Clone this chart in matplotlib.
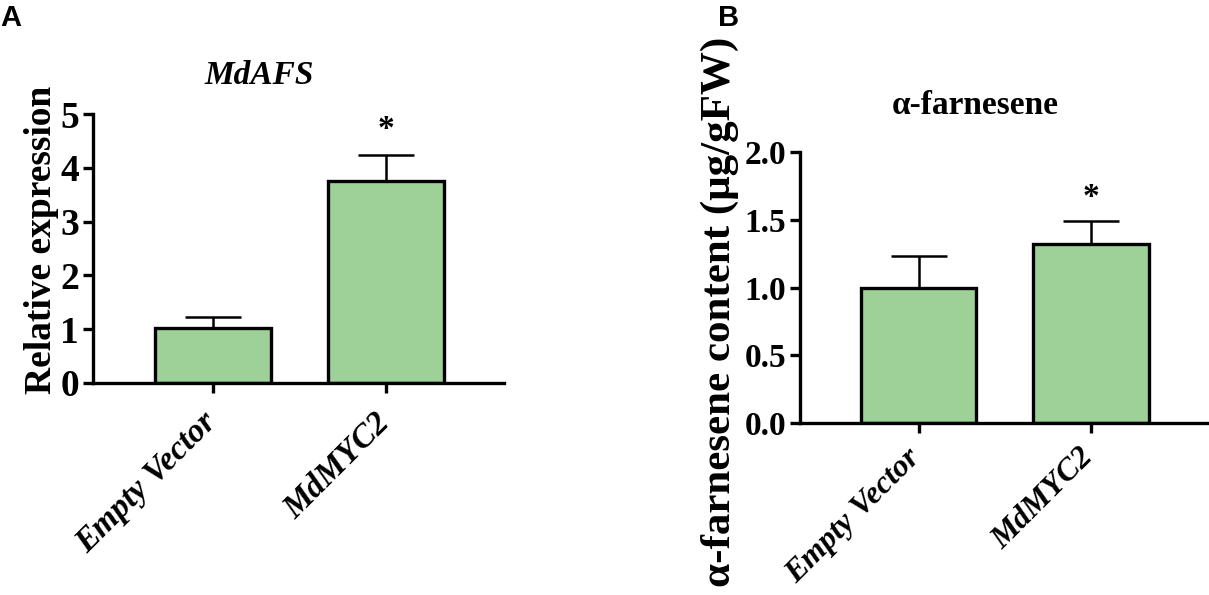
import matplotlib
matplotlib.use("Agg")
import matplotlib.pyplot as plt
from matplotlib.transforms import ScaledTranslation

categories = ["Empty Vector", "MdMYC2"]
afs_values = [1.02, 3.75]
afs_errors = [0.21, 0.48]
far_values = [1.00, 1.32]
far_errors = [0.23, 0.17]

W, H = 1209, 595
fig = plt.figure(figsize=(W / 100, H / 100), dpi=100)
plt.rcParams['font.family'] = ['Liberation Serif', 'DejaVu Serif']
green = '#9ed197'

def px_axes(l, r, b, t):
    return fig.add_axes([l / W, 1 - b / H, (r - l) / W, (b - t) / H])

def style(ax, ylim, yticks, ylabels, tick_fs, dx, dy, xfs):
    for s in ['top', 'right']:
        ax.spines[s].set_visible(False)
    for s in ['left', 'bottom']:
        ax.spines[s].set_linewidth(2.4)
    ax.set_ylim(*ylim)
    ax.set_xlim(-0.69, 1.68)
    ax.set_yticks(yticks)
    ax.set_yticklabels(ylabels, fontsize=tick_fs, fontweight='bold')
    ax.set_xticks(range(len(categories)))
    ax.set_xticklabels(categories, rotation=45, ha='right', fontsize=xfs,
                       fontweight='bold', fontstyle='italic')
    ax.tick_params(axis='both', direction='out', length=7, width=2.4, pad=3)
    off = ScaledTranslation(dx, dy, fig.dpi_scale_trans)
    for lab in ax.get_xticklabels():
        lab.set_transform(lab.get_transform() + off)

def draw(ax, vals, errs):
    x = list(range(len(categories)))
    ax.bar(x, vals, width=0.67, color=green, edgecolor='black', linewidth=2.4, zorder=2)
    ax.errorbar(x, vals, yerr=[[0] * len(errs), errs], fmt='none', ecolor='black',
                elinewidth=1.8, capsize=20, capthick=1.8, zorder=1)

axA = px_axes(93, 504, 383, 114)
draw(axA, afs_values, afs_errors)
style(axA, (0, 5), [0, 1, 2, 3, 4, 5], ['0', '1', '2', '3', '4', '5'], 27,
      0.10, -0.10, 24)
axA.text(1, afs_values[1] + afs_errors[1] + 0.2, '*', ha='center', va='bottom',
         fontsize=24, fontweight='bold')

axB = px_axes(800, 1208, 423, 152)
draw(axB, far_values, far_errors)
style(axB, (0, 2), [0, 0.5, 1.0, 1.5, 2.0], ['0.0', '0.5', '1.0', '1.5', '2.0'], 24,
      0.08, -0.06, 23)
axB.text(1, far_values[1] + far_errors[1] + 0.06, '*', ha='center', va='bottom',
         fontsize=24, fontweight='bold')

fig.text(259 / W, 1 - 76 / H, 'MdAFS', ha='center', va='center', fontsize=24,
         fontweight='bold', fontstyle='italic')
fig.text(975 / W, 1 - 106 / H, 'α-farnesene', ha='center', va='center', fontsize=24,
         fontweight='bold')
fig.text(42 / W, 1 - 240 / H, 'Relative expression', rotation=90, ha='center',
         va='center', fontsize=27, fontweight='bold')
fig.text(720 / W, 1 - 312 / H, 'α-farnesene content (μg/gFW)', rotation=90,
         ha='center', va='center', fontsize=31, fontweight='bold')

fig.text(0 / W, 1 - 18 / H, 'A', ha='left', va='center', fontsize=21,
         fontweight='bold', family='Liberation Sans')
fig.text(718 / W, 1 - 18 / H, 'B', ha='left', va='center', fontsize=21,
         fontweight='bold', family='Liberation Sans')

fig.savefig('out.png', dpi=100)
